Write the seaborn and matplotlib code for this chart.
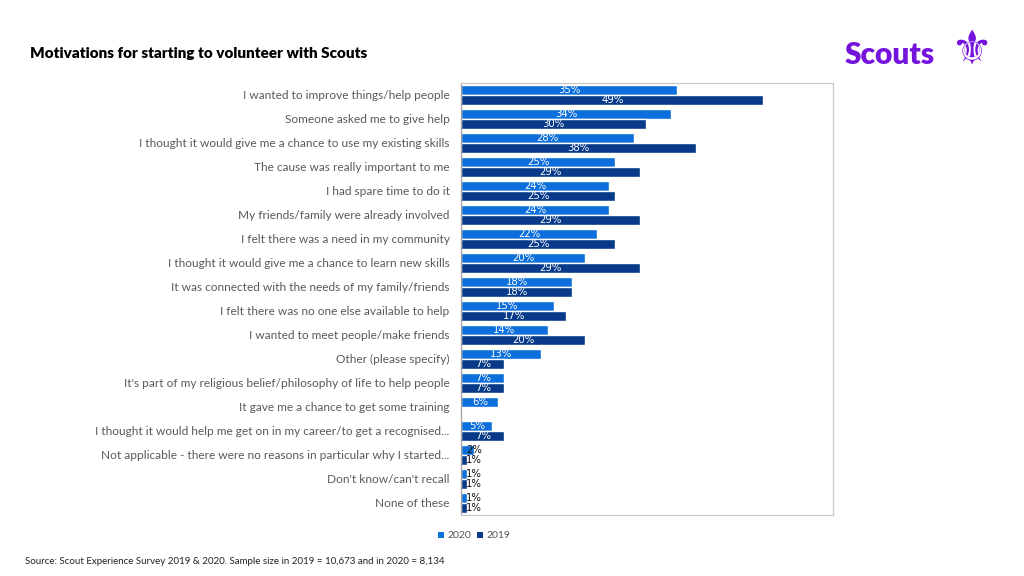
import numpy as np
import pandas as pd
import matplotlib
matplotlib.use("Agg")
import matplotlib.pyplot as plt
import seaborn as sns
from matplotlib.patches import Patch

categories = [
    "I wanted to improve things/help people",
    "Someone asked me to give help",
    "I thought it would give me a chance to use my existing skills",
    "The cause was really important to me",
    "I had spare time to do it",
    "My friends/family were already involved",
    "I felt there was a need in my community",
    "I thought it would give me a chance to learn new skills",
    "It was connected with the needs of my family/friends",
    "I felt there was no one else available to help",
    "I wanted to meet people/make friends",
    "Other (please specify)",
    "It's part of my religious belief/philosophy of life to help people",
    "It gave me a chance to get some training",
    "I thought it would help me get on in my career/to get a recognised...",
    "Not applicable - there were no reasons in particular why I started...",
    "Don't know/can't recall",
    "None of these",
]
values_2020 = [35, 34, 28, 25, 24, 24, 22, 20, 18, 15, 14, 13, 7, 6, 5, 2, 1, 1]
values_2019 = [49, 30, 38, 29, 25, 29, 25, 29, 18, 17, 20, 7, 7, np.nan, 7, 1, 1, 1]
years = ["2020", "2019"]
colors = {"2020": "#0c6fdc", "2019": "#083a8a"}

df = pd.DataFrame({
    "category": categories * 2,
    "value": values_2020 + values_2019,
    "year": [years[0]] * len(categories) + [years[1]] * len(categories),
})

sns.set_theme(style="white")
plt.rcParams["font.family"] = ["Lato", "DejaVu Sans"]

fig = plt.figure(figsize=(10.24, 5.76), dpi=100)
ax = fig.add_axes([0.4505, 0.106, 0.363, 0.750])

sns.barplot(data=df, y="category", x="value", hue="year", hue_order=years,
            order=categories, palette=colors, orient="h", width=0.84,
            saturation=1, legend=False, ax=ax)

ax.set_xlim(0, 60.3)
ax.set_ylim(len(categories) - 0.5, -0.5)
ax.set_xlabel("")
ax.set_ylabel("")
ax.set_xticks([])
ax.tick_params(axis="y", length=0, pad=8.5, labelsize=8.6, labelcolor="#5a5a5a")
for s in ax.spines.values():
    s.set_color("#c8c8c8")
    s.set_linewidth(0.9)
ax.spines["left"].set_color("#a0a0a0")

for cont in ax.containers:
    for bar in cont:
        w = bar.get_width()
        if not np.isfinite(w):
            continue
        yc = bar.get_y() + bar.get_height() / 2
        if w >= 3:
            ax.text(w / 2, yc, f"{w:.0f}%", ha="center", va="center",
                    fontsize=7.3, color="white", family="DejaVu Sans")
        else:
            ax.text(2.1, yc, f"{w:.0f}%", ha="center", va="center",
                    fontsize=7.3, color="#111111", family="DejaVu Sans")

fig.text(30 / 1024, 1 - 53 / 576, "Motivations for starting to volunteer with Scouts",
         fontsize=11, fontweight="heavy", color="black", va="center", ha="left")

fig.text(845 / 1024, 1 - 55 / 576, "Scouts", fontsize=21.5, fontweight="heavy",
         color="#7413dc", va="center", ha="left")
fig.text(971 / 1024, 1 - 52 / 576, "\u269C", fontsize=34, color="#7413dc",
         va="center", ha="center", family="DejaVu Sans")

handles = [Patch(facecolor=colors[y], edgecolor="none", label=y) for y in years]
fig.legend(handles=handles, loc="center", bbox_to_anchor=(474 / 1024, 1 - 536 / 576),
           ncol=2, frameon=False, fontsize=7.5, handlelength=0.6, handleheight=0.6,
           handletextpad=0.3, columnspacing=0.6, labelcolor="#555555")

fig.text(25 / 1024, 1 - 562 / 576,
         "Source: Scout Experience Survey 2019 & 2020. Sample size in 2019 = 10,673 and in 2020 = 8,134",
         fontsize=7, color="#222222", va="center", ha="left")

fig.savefig("out.png", dpi=100)
